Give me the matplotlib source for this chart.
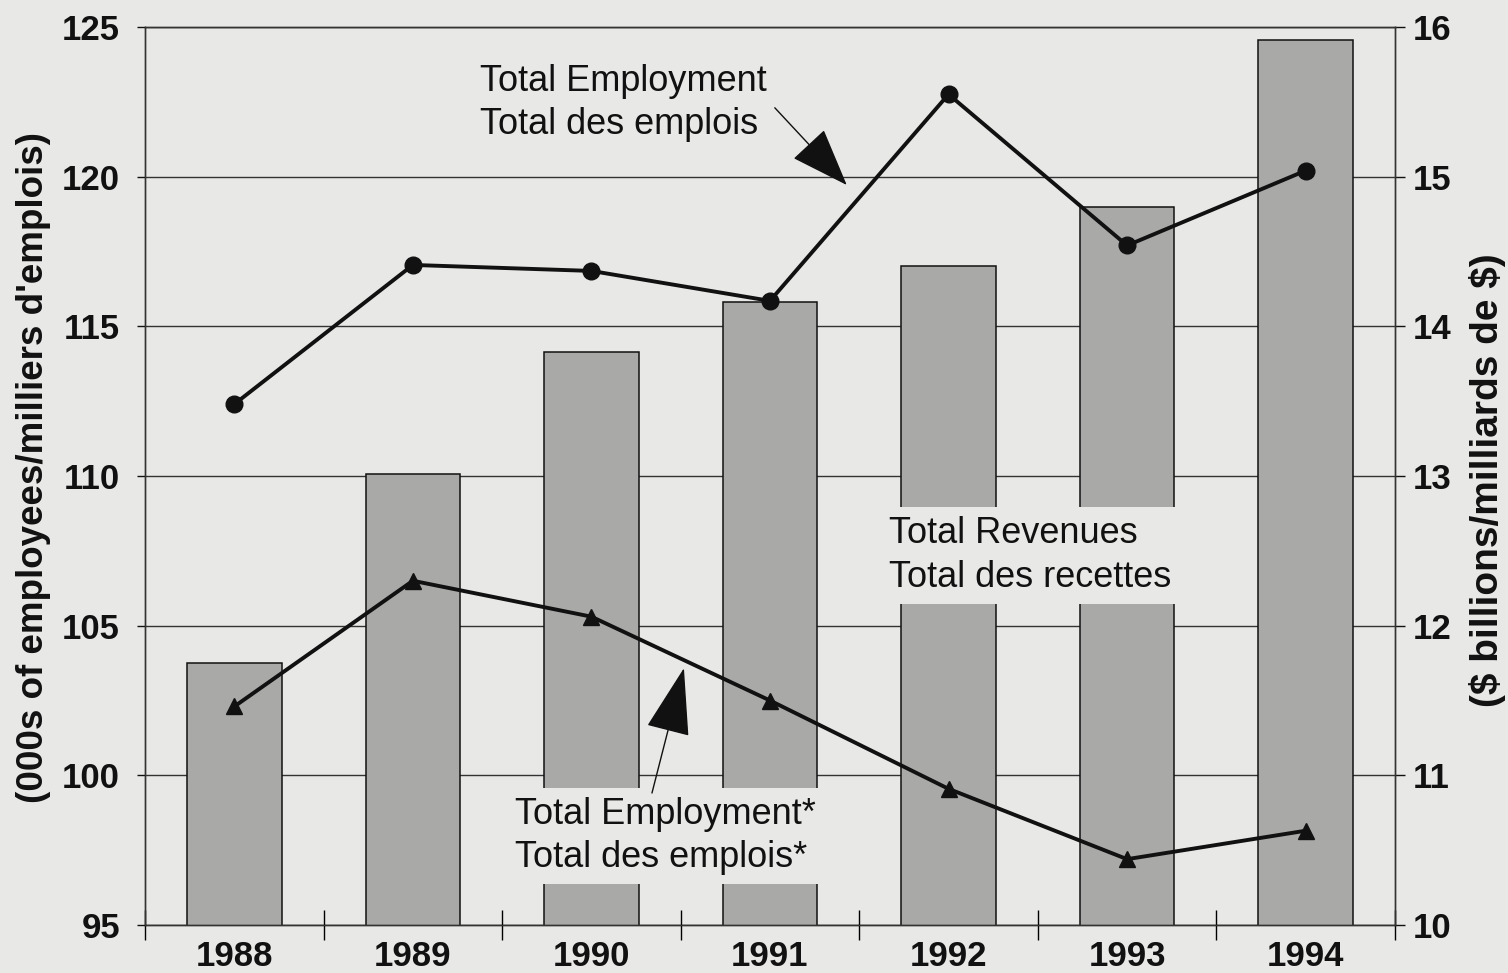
import numpy as np
import matplotlib.pyplot as plt

# data
years = ["1988", "1989", "1990", "1991", "1992", "1993", "1994"]
revenues = [11.75, 13.01, 13.83, 14.16, 14.40, 14.80, 15.91]      # $ billions (right axis)
employment = [112.4, 117.05, 116.85, 115.85, 122.75, 117.7, 120.2]  # 000s, circles
employment_star = [102.3, 106.5, 105.3, 102.5, 99.55, 97.2, 98.15]  # 000s, triangles

left_ticks = [95, 100, 105, 110, 115, 120, 125]
right_ticks = [10, 11, 12, 13, 14, 15, 16]

BG = "#e8e8e6"
BAR = "#a9a9a8"
INK = "#111111"
FONT = "Liberation Sans"

plt.rcParams["font.family"] = [FONT, "DejaVu Sans"]

fig = plt.figure(figsize=(15.08, 9.73), dpi=100, facecolor=BG)
ax = fig.add_axes([0.0962, 0.0493, 0.8288, 0.9230])
ax2 = ax.twinx()

# lines axis on top of the bars axis
ax.set_zorder(2)
ax2.set_zorder(1)
ax.patch.set_visible(False)
ax2.patch.set_visible(False)

x = np.arange(len(years))

#### bars (revenues, right scale) ####
ax2.bar(x, revenues, width=0.53, color=BAR, edgecolor=INK, linewidth=1.1, zorder=2)
ax2.set_ylim(10, 16)
ax2.set_yticks(right_ticks)
ax2.set_axisbelow(True)
ax2.yaxis.grid(True, color="#333333", linewidth=1.0)
ax2.tick_params(axis="y", direction="out", length=7, width=1.0, pad=6,
                labelsize=25, colors=INK)
for lab in ax2.get_yticklabels():
    lab.set_fontweight("bold")

#### lines (employment, left scale) ####
ax.plot(x, employment, color=INK, linewidth=2.8, marker="o", markersize=12, zorder=5)
ax.plot(x, employment_star, color=INK, linewidth=2.8, marker="^", markersize=12, zorder=5)
ax.set_ylim(95, 125)
ax.set_yticks(left_ticks)
ax.set_xlim(-0.5, len(years) - 0.5)
ax.tick_params(axis="y", direction="out", length=6, width=1.0, pad=12,
               labelsize=25, colors=INK)

# year labels at centres, tick marks at category boundaries
ax.set_xticks(x)
ax.set_xticklabels(years)
ax.set_xticks(np.arange(len(years) + 1) - 0.5, minor=True)
ax.tick_params(axis="x", which="major", length=0, pad=11, labelsize=25, colors=INK)
ax.tick_params(axis="x", which="minor", direction="inout", length=21, width=1.0)
for lab in ax.get_yticklabels() + ax.get_xticklabels():
    lab.set_fontweight("bold")

for sp in ["left", "right", "bottom", "top"]:
    ax.spines[sp].set_color("#333333")
    ax.spines[sp].set_linewidth(1.0)
    ax2.spines[sp].set_color("#333333")
    ax2.spines[sp].set_linewidth(1.0)

#### labels and arrows ####
box = dict(boxstyle="square,pad=0.25", facecolor=BG, edgecolor="none")
ax.text(1.376, 123.75, "Total Employment\nTotal des emplois", fontsize=26,
        linespacing=1.3, ha="left", va="top", color=INK, zorder=3)
ax.text(3.665, 108.65, "Total Revenues\nTotal des recettes", fontsize=26,
        linespacing=1.3, ha="left", va="top", color=INK, bbox=box, zorder=3)
ax.text(1.572, 99.27, "Total Employment*\nTotal des emplois*", fontsize=26,
        linespacing=1.3, ha="left", va="top", color=INK, bbox=box, zorder=3)

ax.annotate("", xy=(3.43, 119.72), xytext=(3.027, 122.3),
            arrowprops=dict(arrowstyle="-|>,head_length=1.9,head_width=0.7",
                            mutation_scale=20, color=INK, linewidth=1.0,
                            shrinkA=0, shrinkB=0), zorder=4)
ax.annotate("", xy=(2.518, 103.58), xytext=(2.339, 99.41),
            arrowprops=dict(arrowstyle="-|>,head_length=2.2,head_width=0.72",
                            mutation_scale=20, color=INK, linewidth=1.0,
                            shrinkA=0, shrinkB=0), zorder=4)

fig.text(0.022, 0.52, "(000s of employees/milliers d'emplois)", rotation=90,
         ha="center", va="center", fontsize=26.5, fontweight="bold", color=INK)
fig.text(0.9867, 0.507, r"(\$ billions/milliards de \$)", rotation=90,
         ha="center", va="center", fontsize=28, fontweight="bold", color=INK)

fig.savefig("out.png", dpi=100, facecolor=BG)
